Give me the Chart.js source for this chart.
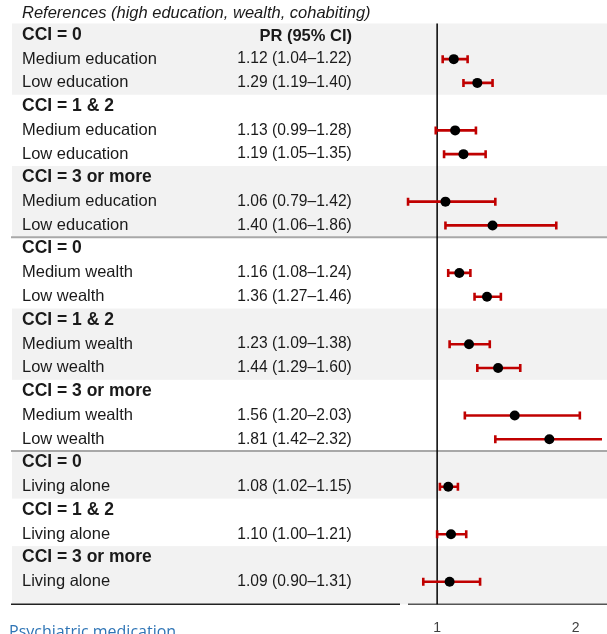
<!DOCTYPE html>
<html>
<head>
<meta charset="utf-8">
<title>PR by CCI</title>
<script src="https://cdn.jsdelivr.net/npm/chart.js@4.4.1/dist/chart.umd.min.js"></script>
<style>
  html, body { margin: 0; padding: 0; background: #fff; }
  #wrap { width: 607px; height: 634px; }
</style>
</head>
<body>
<div id="wrap"><canvas id="chart" width="607" height="634"></canvas></div>
<script>
const title = "References (high education, wealth, cohabiting)";
const prHeader = "PR (95% CI)";
const nextSection = "Psychiatric medication";

const rowLabels = [
  "CCI = 0", "Medium education", "Low education",
  "CCI = 1 & 2", "Medium education", "Low education",
  "CCI = 3 or more", "Medium education", "Low education",
  "CCI = 0", "Medium wealth", "Low wealth",
  "CCI = 1 & 2", "Medium wealth", "Low wealth",
  "CCI = 3 or more", "Medium wealth", "Low wealth",
  "CCI = 0", "Living alone",
  "CCI = 1 & 2", "Living alone",
  "CCI = 3 or more", "Living alone"
];
// null = header row (no estimate)
const pr = [null, 1.12, 1.29, null, 1.13, 1.19, null, 1.06, 1.40,
            null, 1.16, 1.36, null, 1.23, 1.44, null, 1.56, 1.81,
            null, 1.08, null, 1.10, null, 1.09];
const lo = [null, 1.04, 1.19, null, 0.99, 1.05, null, 0.79, 1.06,
            null, 1.08, 1.27, null, 1.09, 1.29, null, 1.20, 1.42,
            null, 1.02, null, 1.00, null, 0.90];
const hi = [null, 1.22, 1.40, null, 1.28, 1.35, null, 1.42, 1.86,
            null, 1.24, 1.46, null, 1.38, 1.60, null, 2.03, 2.32,
            null, 1.15, null, 1.21, null, 1.31];
const xTicks = [1, 2];

// grey bands (first row, last row) and divider lines between the three blocks
const shadedGroups = [[0, 2], [6, 8], [12, 14], [18, 19], [22, 23]];
const dividers = [8.5, 17.5];

const fmt = (v) => v.toFixed(2);

const points = [];
pr.forEach((v, i) => {
  if (v !== null) points.push({ x: v, y: i });
});

function hline(ctx, x0, x1, y) {
  ctx.beginPath();
  ctx.moveTo(x0, y);
  ctx.lineTo(x1, y);
  ctx.stroke();
}

const forestPlugin = {
  id: 'forest',
  beforeDraw(chart) {
    const { ctx, chartArea, scales: { x, y } } = chart;
    ctx.save();
    // row shading
    ctx.fillStyle = '#f2f2f2';
    shadedGroups.forEach(([a, b], k) => {
      const top = y.getPixelForValue(a - 0.5);
      const bottom = k === shadedGroups.length - 1 ? chartArea.bottom : y.getPixelForValue(b + 0.5);
      ctx.fillRect(12, top, chart.width - 12, bottom - top);
    });
    // block dividers
    ctx.strokeStyle = '#a8a8a8';
    ctx.lineWidth = 2;
    dividers.forEach((v) => hline(ctx, 11, chart.width, y.getPixelForValue(v)));
    // bottom rule
    ctx.lineWidth = 1.5;
    ctx.strokeStyle = '#222';
    hline(ctx, 11, 400, chartArea.bottom);
    ctx.strokeStyle = '#555';
    hline(ctx, 408, chart.width, chartArea.bottom);
    // line of no effect
    const x1 = x.getPixelForValue(1);
    ctx.strokeStyle = '#000';
    ctx.lineWidth = 1.5;
    ctx.beginPath();
    ctx.moveTo(x1, chartArea.top);
    ctx.lineTo(x1, chartArea.bottom);
    ctx.stroke();
    ctx.restore();
  },
  beforeDatasetsDraw(chart) {
    const { ctx, chartArea, scales: { x, y } } = chart;
    ctx.save();
    ctx.beginPath();
    ctx.rect(chartArea.left - 6, chartArea.top, chartArea.right - chartArea.left + 6, chartArea.bottom - chartArea.top);
    ctx.clip();
    ctx.strokeStyle = '#c00000';
    ctx.lineWidth = 2.6;
    pr.forEach((v, i) => {
      if (v === null) return;
      const py = y.getPixelForValue(i);
      const xl = x.getPixelForValue(lo[i]);
      const xh = x.getPixelForValue(hi[i]);
      hline(ctx, xl, xh, py);
      [xl, xh].forEach((px) => {
        ctx.beginPath();
        ctx.moveTo(px, py - 4);
        ctx.lineTo(px, py + 4);
        ctx.stroke();
      });
    });
    ctx.restore();
  },
  afterDraw(chart) {
    const { ctx, scales: { y } } = chart;
    ctx.save();
    ctx.fillStyle = '#1a1a1a';
    ctx.textBaseline = 'middle';
    ctx.font = 'italic 16.5px "Liberation Sans", Arial, sans-serif';
    ctx.fillText(title, 22, 13.5);

    rowLabels.forEach((label, i) => {
      const py = y.getPixelForValue(i);
      if (pr[i] === null) {
        ctx.textAlign = 'left';
        ctx.font = 'bold 17.5px "Liberation Sans", Arial, sans-serif';
        ctx.fillText(label, 22, py - 0.5);
      } else {
        ctx.textAlign = 'left';
        ctx.font = '16.5px "Liberation Sans", Arial, sans-serif';
        ctx.fillText(label, 22, py);
        ctx.font = '15.6px "Liberation Sans", Arial, sans-serif';
        ctx.fillText(`${fmt(pr[i])} (${fmt(lo[i])}–${fmt(hi[i])})`, 237.3, py);
      }
    });
    ctx.textAlign = 'right';
    ctx.font = 'bold 16.5px "Liberation Sans", Arial, sans-serif';
    ctx.fillText(prHeader, 352, y.getPixelForValue(0) + 1.5);

    // start of the next panel, cut by the frame
    ctx.textAlign = 'left';
    ctx.textBaseline = 'alphabetic';
    ctx.fillStyle = '#2e74b5';
    ctx.font = '16px "Open Sans", sans-serif';
    ctx.fillText(nextSection, 9, 637);
    ctx.restore();
  }
};

const config = {
  type: 'scatter',
  data: {
    datasets: [{
      data: points,
      pointRadius: 5,
      pointHoverRadius: 5,
      pointBackgroundColor: '#000',
      pointBorderWidth: 0,
      showLine: false
    }]
  },
  options: {
    responsive: false,
    animation: false,
    devicePixelRatio: 1,
    layout: { padding: { left: 402.5, right: 0, top: 23.5, bottom: 0 } },
    plugins: { legend: { display: false }, tooltip: { enabled: false } },
    scales: {
      x: {
        type: 'linear',
        min: 0.75,
        max: 2.19,
        afterBuildTicks: (scale) => { scale.ticks = xTicks.map((v) => ({ value: v })); },
        afterFit: (scale) => { scale.height = 29.7; },
        grid: { display: false, drawTicks: false },
        border: { display: false },
        ticks: {
          padding: 15,
          color: '#404040',
          font: { family: '"Liberation Sans", Arial, sans-serif', size: 14 },
          callback: (v) => String(v)
        }
      },
      y: {
        type: 'linear',
        display: false,
        reverse: true,
        min: -0.5,
        max: 23.95
      }
    }
  },
  plugins: [forestPlugin]
};

new Chart(document.getElementById('chart'), config);
</script>
</body>
</html>
